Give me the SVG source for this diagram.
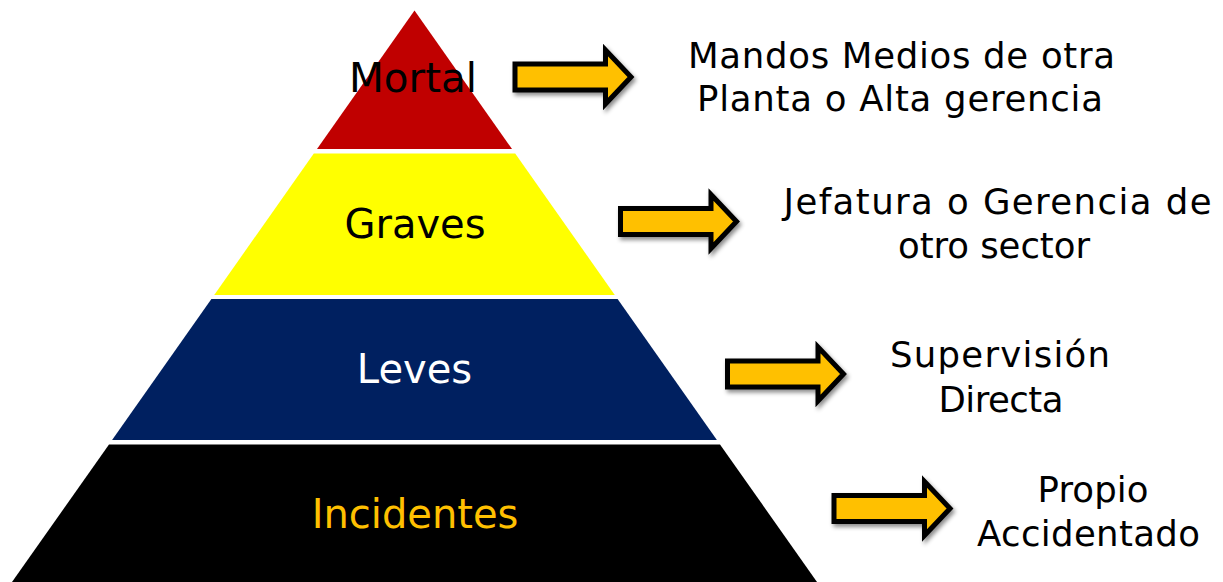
<svg xmlns="http://www.w3.org/2000/svg" width="1223" height="582" viewBox="0 0 1223 582">
  <defs>
    <filter id="shadow" x="-20%" y="-30%" width="150%" height="180%">
      <feDropShadow dx="2" dy="3" stdDeviation="2" flood-color="#000" flood-opacity="0.45"/>
    </filter>
    <path id="arrowShape" d="M2.5,-13 H93 V-27 L118.5,0 L93,27 V13 H2.5 Z"/>
  </defs>
  <style>
    .lvl { font-family: "DejaVu Sans", Verdana, sans-serif; font-size: 40px; text-anchor: middle; }
    .side { font-family: "DejaVu Sans", Verdana, sans-serif; font-size: 35.5px; text-anchor: middle; fill: #000; }
    .arrow { fill: #FFC000; stroke: #000; stroke-width: 5; stroke-linejoin: miter; stroke-miterlimit: 10; filter: url(#shadow); }
  </style>
  <rect width="1223" height="582" fill="#FFFFFF"/>

  <g id="level-mortal">
    <polygon points="414.5,10.5 512,149 317,149" fill="#C00000"/>
    <text class="lvl" x="413" y="92" fill="#000" textLength="128" lengthAdjust="spacingAndGlyphs">Mortal</text>
  </g>
  <g id="level-graves">
    <polygon points="313.8,153.5 515.2,153.5 614.8,295 214.2,295" fill="#FFFF00"/>
    <text class="lvl" x="415" y="238" fill="#000">Graves</text>
  </g>
  <g id="level-leves">
    <polygon points="211.4,299 617.6,299 716.9,440 112.1,440" fill="#002060"/>
    <text class="lvl" x="414.5" y="383" fill="#FFFFFF">Leves</text>
  </g>
  <g id="level-incidentes">
    <polygon points="109,444.5 720,444.5 817,582 12,582" fill="#000000"/>
    <text class="lvl" x="415" y="528" fill="#FFC000">Incidentes</text>
  </g>

  <g id="connectors">
    <use href="#arrowShape" class="arrow" transform="translate(512.5,77)"/>
    <use href="#arrowShape" class="arrow" transform="translate(618,221.5)"/>
    <use href="#arrowShape" class="arrow" transform="translate(725,374)"/>
    <use href="#arrowShape" class="arrow" transform="translate(831.5,508.5)"/>
  </g>

  <g id="label-mortal">
    <text class="side" x="901.5" y="68" textLength="427" lengthAdjust="spacing">Mandos Medios de otra</text>
    <text class="side" x="900" y="111" textLength="406" lengthAdjust="spacing">Planta o Alta gerencia</text>
  </g>
  <g id="label-graves">
    <text class="side" x="997.5" y="214" textLength="428" lengthAdjust="spacing">Jefatura o Gerencia de</text>
    <text class="side" x="994" y="258" textLength="192" lengthAdjust="spacing">otro sector</text>
  </g>
  <g id="label-leves">
    <text class="side" x="1000" y="367" textLength="220" lengthAdjust="spacing">Supervisión</text>
    <text class="side" x="1001" y="412" textLength="125" lengthAdjust="spacing">Directa</text>
  </g>
  <g id="label-incidentes">
    <text class="side" x="1093" y="502" textLength="111" lengthAdjust="spacing">Propio</text>
    <text class="side" x="1088.5" y="546" textLength="223" lengthAdjust="spacing">Accidentado</text>
  </g>
</svg>
